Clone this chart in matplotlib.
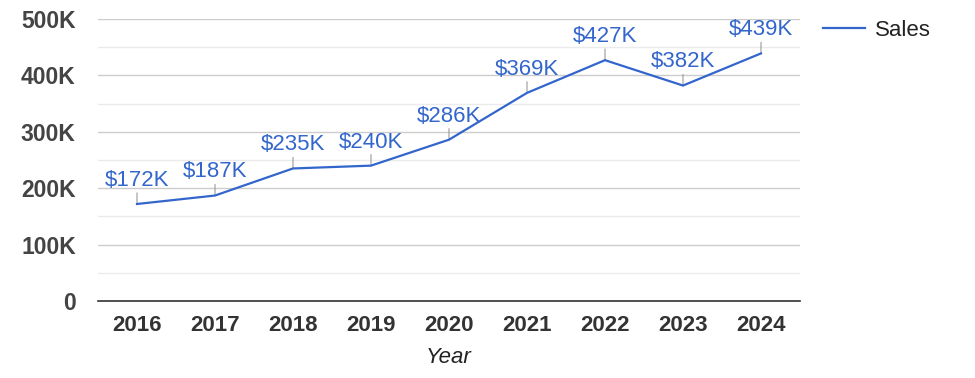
import matplotlib
matplotlib.use("Agg")
import matplotlib.pyplot as plt
from matplotlib.ticker import MultipleLocator, FuncFormatter

years = ["2016", "2017", "2018", "2019", "2020", "2021", "2022", "2023", "2024"]
sales = [172000, 187000, 235000, 240000, 286000, 369000, 427000, 382000, 439000]
series_name = "Sales"

plt.rcParams['font.family'] = ['Liberation Sans', 'DejaVu Sans']

fig = plt.figure(figsize=(9.75, 3.78), dpi=100)
ax = fig.add_axes([98/975, 1 - 301/378, 702/975, 282/378])

x = list(range(len(years)))
line, = ax.plot(x, sales, color='#3366cc', lw=1.6, label=series_name, zorder=3,
                solid_joinstyle='miter')

for xi, v in zip(x, sales):
    ax.annotate('', xy=(xi, v), xytext=(0, 8), textcoords='offset points',
                arrowprops=dict(arrowstyle='-', color='#999999', lw=0.8,
                                shrinkA=0, shrinkB=0), zorder=2)
    ax.annotate(f"${v/1000:.0f}K", xy=(xi, v), xytext=(0, 17), textcoords='offset points',
                ha='center', va='center', fontsize=16, color='#3366cc', zorder=4)

ax.set_xlim(-0.5, len(years) - 0.5)
ax.set_ylim(0, 500000)
ax.yaxis.set_major_locator(MultipleLocator(100000))
ax.yaxis.set_minor_locator(MultipleLocator(50000))
ax.yaxis.set_major_formatter(FuncFormatter(lambda v, p: "0" if v == 0 else f"{v/1000:.0f}K"))
ax.grid(axis='y', which='major', color='#cccccc', lw=1)
ax.grid(axis='y', which='minor', color='#ebebeb', lw=1)
ax.set_axisbelow(True)

ax.set_xticks(x)
ax.set_xticklabels(years)
for s in ['top', 'right', 'left']:
    ax.spines[s].set_visible(False)
ax.spines['bottom'].set_color('#333333')
ax.spines['bottom'].set_linewidth(1.2)
ax.tick_params(axis='both', which='both', length=0)
ax.tick_params(axis='y', pad=16)
ax.tick_params(axis='x', pad=10)
for lab in ax.get_yticklabels():
    lab.set_fontweight('bold')
    lab.set_fontsize(16.5)
    lab.set_color('#444444')
for lab in ax.get_xticklabels():
    lab.set_fontweight('bold')
    lab.set_fontsize(16)
    lab.set_color('#333333')

ax.set_xlabel("Year", fontstyle='italic', fontsize=16, color='#222222', labelpad=8)

leg = fig.legend(handles=[line], labels=[series_name], loc='center left',
                 bbox_to_anchor=(803/975, 1 - 30/378), frameon=False,
                 fontsize=16, handlelength=1.9, handletextpad=0.45)
for t in leg.get_texts():
    t.set_color('#222222')

fig.savefig("out.png", dpi=100)
